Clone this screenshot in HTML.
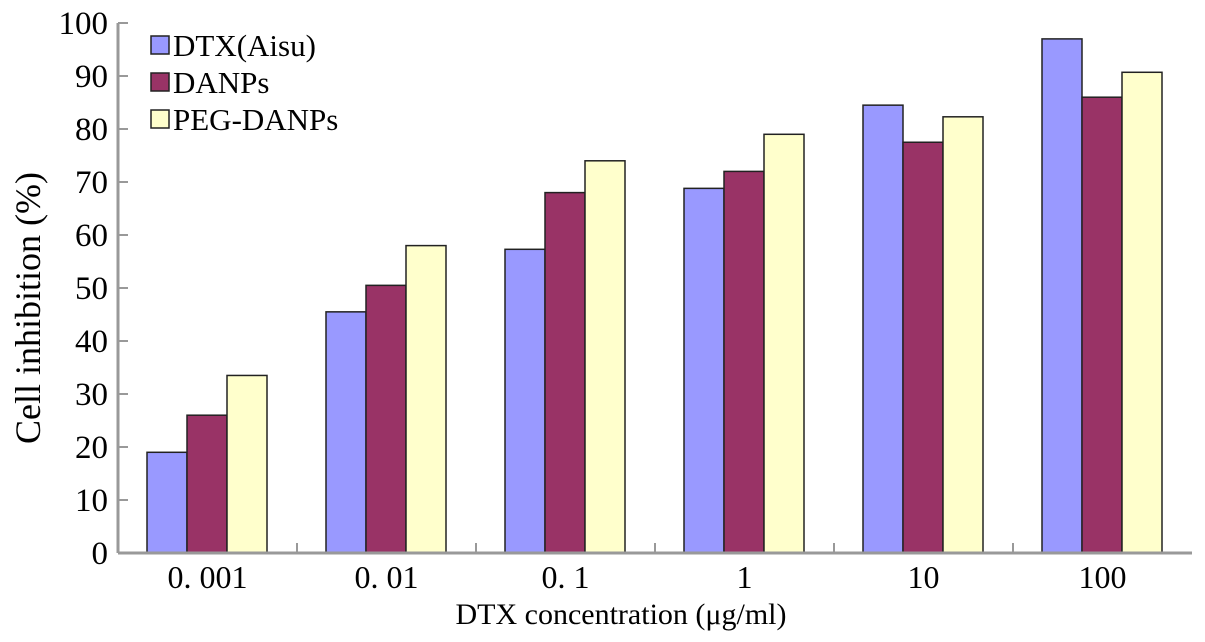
<!DOCTYPE html>
<html><head><meta charset="utf-8"><style>
body{margin:0;background:#fff}
svg text{font-family:"Liberation Serif",serif;fill:#000}
</style></head><body>
<svg id="c" width="1205" height="637"></svg>
<script>
const categories=["0. 001","0. 01","0. 1","1","10","100"];
const seriesNames=["DTX(Aisu)","DANPs","PEG-DANPs"];
const dtx=[19,45.5,57.3,68.8,84.5,97];
const danps=[26,50.5,68,72,77.5,86];
const peg=[33.5,58,74,79,82.3,90.7];
const yTicks=[0,10,20,30,40,50,60,70,80,90,100];
const colors=["#9999ff","#993366","#ffffcc"];
const svg=document.getElementById('c');
const NS="http://www.w3.org/2000/svg";
const x0=118,y0=553,pxU=5.3,gw=179,bw=40,off=29;
const y=v=>y0-v*pxU;
const gx=i=>x0+i*gw;
function mk(t,a,txt){const e=document.createElementNS(NS,t);for(const k in a)e.setAttribute(k,a[k]);if(txt!=null)e.textContent=txt;svg.appendChild(e);return e;}
[dtx,danps,peg].forEach((s,si)=>{s.forEach((v,i)=>{
 const r=mk('rect',{x:gx(i)+off+si*bw,y:y(v),width:bw,height:y0-y(v),fill:colors[si],stroke:'#222',"stroke-width":1.5});
 
 
});});
let ax=mk('line',{x1:x0,y1:y(100),x2:x0,y2:y0,stroke:'#999',"stroke-width":3});


let bx=mk('line',{x1:x0,y1:y0,x2:x0+6*gw,y2:y0,stroke:'#999',"stroke-width":3});


yTicks.forEach(t=>{
 mk('line',{x1:x0,y1:y(t),x2:x0+10,y2:y(t),stroke:'#999',"stroke-width":2});
 const l=mk('text',{x:108,y:y(t)+11,"font-size":33,"text-anchor":"end"},t);
 
 
});
categories.forEach((c,i)=>{
 if(i>0)mk('line',{x1:gx(i),y1:y0,x2:gx(i),y2:y0-10,stroke:'#999',"stroke-width":2});
 const l=mk('text',{x:gx(i)+gw/2,y:588,"font-size":32,"text-anchor":"middle"},c);
 
 
});
seriesNames.forEach((n,i)=>{
 const yy=36+i*37;
 const r=mk('rect',{x:151,y:yy,width:18,height:18,fill:colors[i],stroke:'#222',"stroke-width":1.5});
 
 
 const t=mk('text',{x:173,y:yy+20,"font-size":31},n);
 
 
});
let xt=mk('text',{x:621,y:624,"font-size":30,"text-anchor":"middle"},"DTX concentration (μg/ml)");


let yt=mk('text',{x:0,y:0,"font-size":36,"text-anchor":"middle",transform:"translate(40,308) rotate(-90)"},"Cell inhibition (%)");


</script>
</body></html>
